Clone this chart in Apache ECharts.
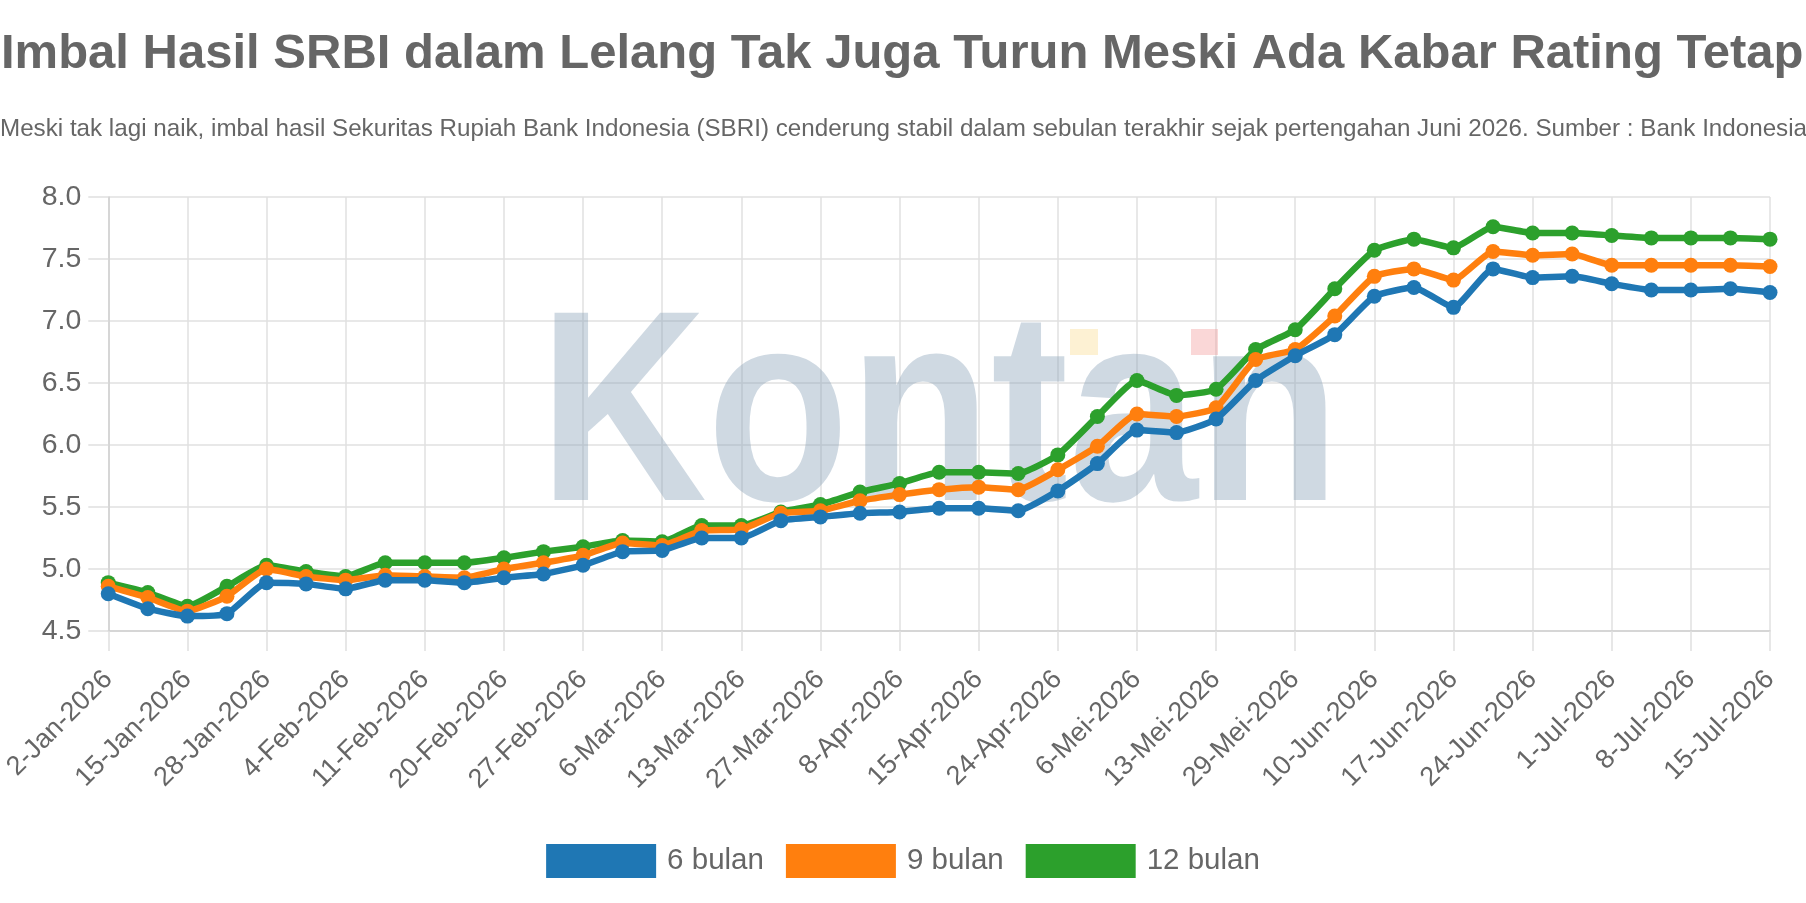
<!DOCTYPE html>
<html>
<head>
<meta charset="utf-8">
<style>
  html, body { margin: 0; padding: 0; background: #ffffff; }
  #chart { width: 1806px; height: 903px; }
</style>
<script src="https://cdn.jsdelivr.net/npm/echarts@6/dist/echarts.min.js"></script>
</head>
<body>
<div id="chart"></div>
<script>
// ---- Data ----
const titleText = 'Imbal Hasil SRBI dalam Lelang Tak Juga Turun Meski Ada Kabar Rating Tetap';
const subtitleText = 'Meski tak lagi naik, imbal hasil Sekuritas Rupiah Bank Indonesia (SBRI) cenderung stabil dalam sebulan terakhir sejak pertengahan Juni 2026. Sumber : Bank Indonesia';

const dates = [
  '2-Jan-2026', '9-Jan-2026', '15-Jan-2026', '23-Jan-2026', '28-Jan-2026', '30-Jan-2026',
  '4-Feb-2026', '6-Feb-2026', '11-Feb-2026', '13-Feb-2026', '20-Feb-2026', '25-Feb-2026',
  '27-Feb-2026', '4-Mar-2026', '6-Mar-2026', '11-Mar-2026', '13-Mar-2026', '20-Mar-2026',
  '27-Mar-2026', '1-Apr-2026', '8-Apr-2026', '10-Apr-2026', '15-Apr-2026', '17-Apr-2026',
  '24-Apr-2026', '29-Apr-2026', '6-Mei-2026', '8-Mei-2026', '13-Mei-2026', '22-Mei-2026',
  '29-Mei-2026', '3-Jun-2026', '10-Jun-2026', '12-Jun-2026', '17-Jun-2026', '19-Jun-2026',
  '24-Jun-2026', '26-Jun-2026', '1-Jul-2026', '3-Jul-2026', '8-Jul-2026', '10-Jul-2026',
  '15-Jul-2026'
];

const seriesNames = ['6 bulan', '9 bulan', '12 bulan'];

const bulan6 = [
  4.80, 4.68, 4.62, 4.64, 4.89, 4.88, 4.84, 4.91, 4.91, 4.89, 4.93, 4.96, 5.03, 5.14, 5.15,
  5.25, 5.25, 5.39, 5.42, 5.45, 5.46, 5.49, 5.49, 5.47, 5.63, 5.85, 6.12, 6.10, 6.21, 6.52,
  6.72, 6.89, 7.20, 7.27, 7.11, 7.42, 7.35, 7.36, 7.30, 7.25, 7.25, 7.26, 7.23
];
const bulan9 = [
  4.86, 4.77, 4.66, 4.78, 5.00, 4.94, 4.91, 4.95, 4.94, 4.93, 5.00, 5.05, 5.11, 5.21, 5.19,
  5.31, 5.32, 5.45, 5.47, 5.55, 5.60, 5.64, 5.66, 5.64, 5.80, 5.99, 6.25, 6.23, 6.30, 6.69,
  6.77, 7.04, 7.36, 7.42, 7.33, 7.56, 7.53, 7.54, 7.45, 7.45, 7.45, 7.45, 7.44
];
const bulan12 = [
  4.89, 4.81, 4.70, 4.86, 5.03, 4.98, 4.94, 5.05, 5.05, 5.05, 5.09, 5.14, 5.18, 5.23, 5.22,
  5.35, 5.35, 5.46, 5.52, 5.62, 5.69, 5.78, 5.78, 5.77, 5.92, 6.23, 6.52, 6.40, 6.45, 6.77,
  6.93, 7.26, 7.57, 7.66, 7.59, 7.76, 7.71, 7.71, 7.69, 7.67, 7.67, 7.67, 7.66
];

const yMin = 4.5, yMax = 8.0, yStep = 0.5;
const colors = ['#1f77b4', '#ff7f0e', '#2ca02c'];

// ---- Chart ----
const chart = echarts.init(document.getElementById('chart'), null, { renderer: 'canvas' });
const font = '"Liberation Sans", Arial, Helvetica, sans-serif';
const textColor = '#666666';
const gridColor = '#e0e0e0';

function lineSeries(name, data, color, z) {
  return {
    name: name,
    type: 'line',
    data: data,
    smooth: 0.15,
    symbol: 'circle',
    symbolSize: 15,
    showAllSymbol: true,
    z: z,
    lineStyle: { color: color, width: 6.5 },
    itemStyle: { color: color },
    emphasis: { disabled: true }
  };
}

chart.setOption({
  animation: false,
  color: colors,
  textStyle: { fontFamily: font },
  title: [
    {
      text: titleText,
      left: 1,
      top: 30,
      padding: 0,
      textStyle: { fontFamily: font, fontSize: 49, fontWeight: 'bold', color: textColor }
    },
    {
      text: subtitleText,
      left: 0,
      top: 117.5,
      padding: 0,
      textStyle: { fontFamily: font, fontSize: 24.2, fontWeight: 'normal', color: textColor }
    }
  ],
  legend: {
    data: seriesNames,
    left: 'center',
    top: 844,
    padding: 0,
    icon: 'rect',
    itemWidth: 110,
    itemHeight: 34,
    itemGap: 22,
    textStyle: { fontFamily: font, fontSize: 29.5, color: textColor, padding: [0, 0, 0, 6] }
  },
  tooltip: { trigger: 'axis' },
  grid: { left: 107, right: 36, top: 197, bottom: 272, containLabel: false },
  xAxis: {
    type: 'category',
    data: dates,
    boundaryGap: false,
    axisLine: { show: true, lineStyle: { color: '#d0d0d0', width: 1.5 } },
    axisTick: { show: true, interval: 1, length: 20, lineStyle: { color: gridColor, width: 1.5 } },
    axisLabel: {
      interval: 1, rotate: 45, margin: 44,
      fontFamily: font, fontSize: 27, color: textColor
    },
    splitLine: { show: true, interval: 1, lineStyle: { color: gridColor, width: 1.5 } }
  },
  yAxis: {
    type: 'value',
    min: yMin, max: yMax, interval: yStep,
    axisLine: { show: true, lineStyle: { color: '#d0d0d0', width: 1.5 } },
    axisTick: { show: true, length: 20, lineStyle: { color: gridColor, width: 1.5 } },
    axisLabel: {
      margin: 27, fontFamily: font, fontSize: 28.5, color: textColor,
      formatter: v => v.toFixed(1)
    },
    splitLine: { show: true, lineStyle: { color: gridColor, width: 1.5 } }
  },
  graphic: [
    {
      type: 'text',
      z: 1,
      silent: true,
      x: 539, y: 425,
      scaleX: 0.855,
      style: {
        text: 'Kontan',
        fontFamily: font,
        fontWeight: 'bold',
        fontSize: 272,
        fill: 'rgba(140,165,185,0.42)',
        verticalAlign: 'middle',
        align: 'left'
      }
    },
    {
      type: 'rect', z: 1, silent: true,
      shape: { x: 1070, y: 329, width: 28, height: 26 },
      style: { fill: 'rgba(250,215,130,0.35)' }
    },
    {
      type: 'rect', z: 1, silent: true,
      shape: { x: 1191, y: 329, width: 27, height: 26 },
      style: { fill: 'rgba(240,140,140,0.35)' }
    }
  ],
  series: [
    lineSeries(seriesNames[0], bulan6, colors[0], 5),
    lineSeries(seriesNames[1], bulan9, colors[1], 4),
    lineSeries(seriesNames[2], bulan12, colors[2], 3)
  ]
});
</script>
</body>
</html>
